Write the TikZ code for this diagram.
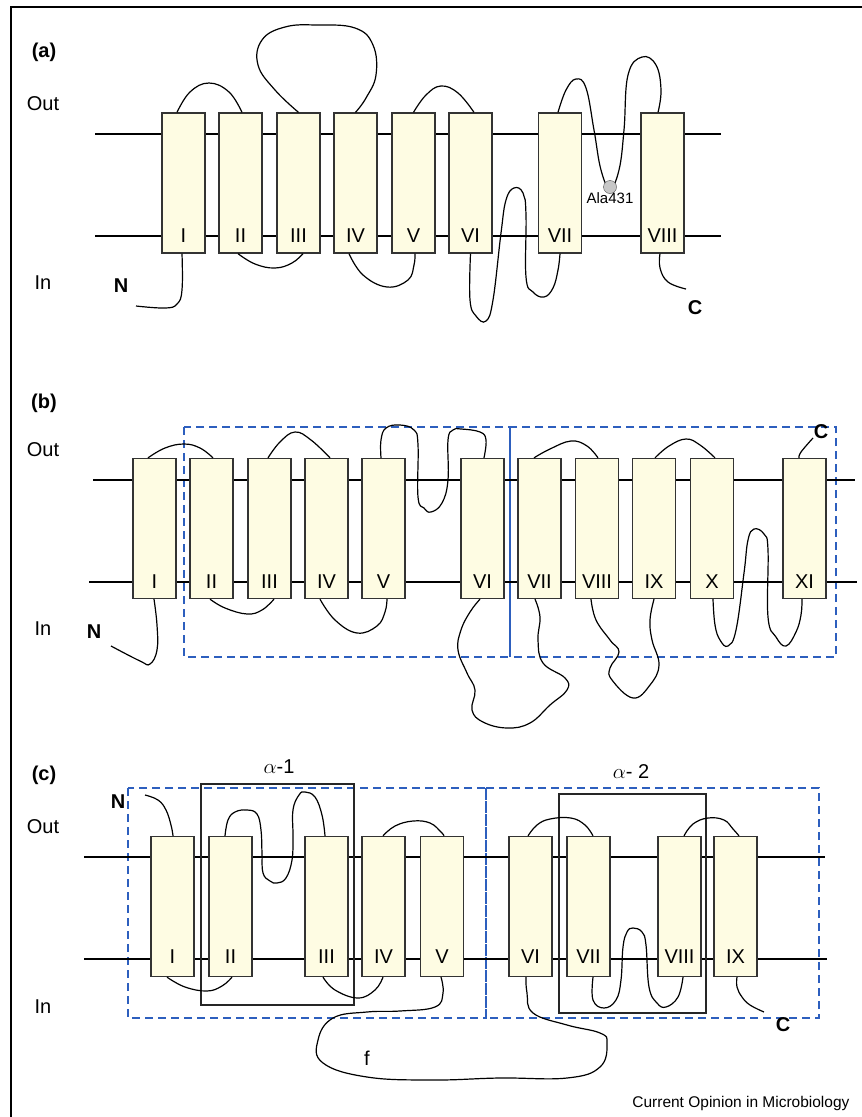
\documentclass[tikz,border=0pt]{standalone}
\usepackage{fontspec}
\setmainfont{Liberation Sans}
\usetikzlibrary{positioning}
\definecolor{tmfill}{RGB}{254,252,227}
\definecolor{domblue}{RGB}{45,95,190}
\tikzset{
  tmbox/.style={
    draw=black!80,
    fill=tmfill,
    line width=1.3pt,
    minimum width=43pt,
    minimum height=140pt,
    inner sep=0pt
  },
  tmnum/.style={
    inner sep=0pt,
    font=\fontsize{20}{20}\selectfont
  },
  sidelabel/.style={font=\fontsize{20}{20}\selectfont},
  panellabel/.style={font=\fontsize{20}{20}\selectfont\bfseries},
  termlabel/.style={font=\fontsize{20}{20}\selectfont\bfseries},
  membrane/.style={line width=1.2pt},
  loopline/.style={
    line width=1.2pt,
    smooth,
    tension=0.7
  },
  domainbox/.style={
    draw=domblue,
    line width=1.2pt,
    dash pattern=on 8pt off 5pt
  },
  alphabox/.style={
    draw=black!85,
    line width=1.3pt
  }
}

\begin{document}
\begin{tikzpicture}[x=1pt,y=1pt]
\useasboundingbox (0,0) rectangle (862,-1117);

% --- cadre ---
\draw[line width=1.2pt] (11,-1117) -- (11,-7) -- (862,-7);

% ======================= (a) =======================
\node[panellabel] (pa) at (44,-52) {(a)};
\node[sidelabel] (aout) at (43,-104) {Out};
\node[sidelabel] (ain) at (43,-283) {In};

% --- membrane ---
\draw[membrane] (95,-134) -- (721,-134);
\draw[membrane] (95,-236) -- (721,-236);

% --- helices ---
\foreach \x/\n [count=\i] in {183.5/I,240.5/II,298.5/III,355.5/IV,413.5/V,470.5/VI,560/VII,662.5/VIII}{
  \node[tmbox] (a\i) at (\x,-183) {};
  \node[tmnum] (a\i n) at (\x,-236) {\n};
}

% --- boucles ---
\draw[loopline] plot coordinates {([xshift=-6.5pt]a1.north) (190,-92) (209,-83) (229,-92) ([xshift=1.5pt]a2.north)};
\draw[loopline] plot coordinates {(a3.north) (275,-90) (258,-65) (262,-40) (285,-27) (317,-25) (355,-28) (373,-45) (376,-75) (366,-98) (a4.north)};
\draw[loopline] plot coordinates {(a5.north) (426,-95) (441,-86) (458,-93) ([xshift=3.5pt]a6.north)};
\draw[loopline] plot coordinates {([xshift=-2pt]a7.north) (566,-90) (576,-79) (586,-88) (594,-130) (601,-170) (610,-188) (619,-170) (624,-130) (628,-75) (642,-57) (656,-65) (661,-90) ([xshift=-4.5pt]a8.north)};
\draw[loopline] plot coordinates {([xshift=-2.5pt]a2.south) (255,-264) (275,-268) (292,-263) ([xshift=4.5pt]a3.south)};
\draw[loopline] plot coordinates {([xshift=-6.5pt]a4.south) (363,-275) (387,-287) (408,-280) (414,-265) ([xshift=1.5pt]a5.south)};
\draw[loopline] plot coordinates {(a6.south) (470,-300) (476,-316) (486,-321) (493,-300) (501,-233) (506,-200) (514,-188) (523,-193) (526,-215) (526,-277) (533,-292) (544,-297) (553,-288) (558,-270) (a7.south)};

% --- extremites ---
\coordinate (aN) at (136,-306);
\coordinate (aC) at (686,-289);
\draw[loopline] plot coordinates {([xshift=-1.5pt]a1.south) (182,-290) (177,-304) (165,-308) (aN)};
\draw[loopline] plot coordinates {([xshift=-2.5pt]a8.south) (660,-268) (668,-282) (aC)};
\node[termlabel] (aNl) at (121,-286) {N};
\node[termlabel] (aCl) at (695,-308) {C};

% --- Ala431 ---
\node[circle, draw=black!70, fill=black!22, minimum size=13pt, inner sep=0pt] (ala) at (610,-187) {};
\node[below=-1pt of ala, inner sep=0pt, font=\fontsize{15}{15}\selectfont] (alal) {Ala431};

% ======================= (b) =======================
\node[panellabel] (pb) at (44,-403) {(b)};
\node[sidelabel] (bout) at (43,-450) {Out};
\node[sidelabel] (bin) at (43,-629) {In};

% --- domaines ---
\draw[domainbox] (184,-427) rectangle (510,-657);
\draw[domainbox] (510,-427) rectangle (836,-657);
\draw[draw=domblue, line width=1.2pt] (510,-427) -- (510,-657);

% --- membrane ---
\draw[membrane] (93,-480) -- (855,-480);
\draw[membrane] (89,-582) -- (857,-582);

% --- helices ---
\foreach \x/\n [count=\i] in {154.5/I,211.5/II,269.5/III,326.5/IV,383.5/V,482.5/VI,539.5/VII,597/VIII,654/IX,712/X,804.5/XI}{
  \node[tmbox] (b\i) at (\x,-528.5) {};
  \node[tmnum] (b\i n) at (\x,-582) {\n};
}

% --- boucles ---
\draw[loopline] plot coordinates {([xshift=-6.5pt]b1.north) (165,-448) (184,-444) (200,-448) ([xshift=1.5pt]b2.north)};
\draw[loopline] plot coordinates {([xshift=-1.5pt]b3.north) (280,-442) (295,-432) (311,-440) ([xshift=3.5pt]b4.north)};
\draw[loopline] plot coordinates {([xshift=-2.5pt]b5.north) (381,-440) (386,-428) (400,-425) (414,-430) (418,-445) (418,-497) (424,-508) (431,-512) (442,-503) (448,-480) (448,-440) (453,-430) (461,-429) (480,-432) (486,-440) ([xshift=1.5pt]b6.north)};
\draw[loopline] plot coordinates {([xshift=-5.5pt]b7.north) (550,-449) (571,-441) (587,-446) ([xshift=1pt]b8.north)};
\draw[loopline] plot coordinates {([xshift=1pt]b9.north) (669,-446) (686,-439) (700,-445) ([xshift=3pt]b10.north)};
\draw[loopline] plot coordinates {([xshift=-1.5pt]b2.south) (225,-608) (247,-614) (262,-610) ([xshift=4.5pt]b3.south)};
\draw[loopline] plot coordinates {([xshift=-6.5pt]b4.south) (335,-620) (357,-633) (377,-626) (385,-612) ([xshift=3.5pt]b5.south)};
\draw[loopline] plot coordinates {([xshift=-2.5pt]b6.south) (470,-612) (461,-630) (458,-650) (467,-673) (475,-690) (472,-710) (483,-722) (507,-728) (530,-723) (550,-705) (567,-690) (565,-678) (543,-663) (538,-640) (540,-617) ([xshift=-4.5pt]b7.south)};
\draw[loopline] plot coordinates {([xshift=-6pt]b8.south) (596,-620) (610,-640) (619,-652) (610,-668) (612,-680) (633,-698) (650,-685) (659,-665) (652,-640) (650,-620) (b9.south)};
\draw[loopline] plot coordinates {([xshift=1pt]b10.south) (715,-625) (720,-640) (728,-646) (736,-630) (744,-573) (748,-540) (754,-529) (764,-534) (768,-550) (768,-617) (776,-637) (786,-646) (796,-632) (801,-615) ([xshift=-2.5pt]b11.south)};

% --- extremites ---
\coordinate (bN) at (111,-646);
\coordinate (bC) at (813,-438);
\draw[loopline] plot coordinates {([xshift=-0.5pt]b1.south) (157,-625) (157,-650) (150,-664) (140,-661) (bN)};
\draw[loopline] plot coordinates {([xshift=-5.5pt]b11.north) (801,-452) (bC)};
\node[termlabel] (bNl) at (94,-632) {N};
\node[termlabel] (bCl) at (821,-432) {C};

% ======================= (c) =======================
\node[panellabel] (pc) at (44,-775) {(c)};
\node[sidelabel] (cout) at (43,-827) {Out};
\node[sidelabel] (cin) at (43,-1007) {In};

% --- domaines ---
\draw[domainbox] (128,-788) rectangle (486,-1018);
\draw[domainbox] (486,-788) rectangle (819,-1018);

% --- membrane ---
\draw[membrane] (84,-857) -- (825,-857);
\draw[membrane] (84,-959) -- (827,-959);

% --- alpha ---
\draw[alphabox] (201,-784) rectangle (354,-1005);
\draw[alphabox] (559,-794) rectangle (706,-1013);
\node[sidelabel] (al1) at (279,-767) {$\alpha$-1};
\node[sidelabel] (al2) at (631,-772) {$\alpha$- 2};

% --- helices ---
\foreach \x/\n [count=\i] in {172.5/I,230.5/II,326.5/III,383.5/IV,442/V,530.5/VI,588.5/VII,679.5/VIII,735.5/IX}{
  \node[tmbox] (c\i) at (\x,-906.5) {};
  \node[tmnum] (c\i n) at (\x,-957) {\n};
}

% --- boucles ---
\draw[loopline] plot coordinates {([xshift=-5.5pt]c2.north) (228,-820) (235,-812) (247,-810) (257,-814) (261,-830) (262,-853) (263,-873) (270,-881) (277,-883) (286,-878) (292,-860) (293,-837) (293,-810) (299,-795) (305,-792) (315,-797) (322,-815) ([xshift=-1.5pt]c3.north)};
\draw[loopline] plot coordinates {([xshift=-0.5pt]c4.north) (395,-826) (413,-821) (430,-823) (441,-832) ([xshift=2pt]c5.north)};
\draw[loopline] plot coordinates {([xshift=-5.5pt]c1.south) (185,-987) (207,-991) (222,-986) ([xshift=1.5pt]c2.south)};
\draw[loopline] plot coordinates {([xshift=-3.5pt]c3.south) (335,-990) (358,-998) (375,-990) ([xshift=-0.5pt]c4.south)};
\draw[loopline] plot coordinates {([xshift=-1pt]c5.south) (443,-993) (435,-1007) (400,-1011) (367,-1012) (333,-1018) (318,-1040) (323,-1063) (367,-1077) (433,-1080) (500,-1078) (567,-1078) (600,-1067) (607,-1043) (600,-1033) (567,-1025) (533,-1013) (527,-993) ([xshift=-4.5pt]c6.south)};
\draw[loopline] plot coordinates {([xshift=-2.5pt]c6.north) (537,-825) (550,-819) (571,-818) (585,-825) ([xshift=4.5pt]c7.north)};
\draw[loopline] plot coordinates {([xshift=4.5pt]c7.south) (593,-1000) (604,-1008) (616,-1000) (621,-980) (623,-947) (627,-932) (633,-928) (642,-932) (646,-945) (649,-987) (657,-1003) (666,-1007) (678,-997) ([xshift=3.5pt]c8.south)};
\draw[loopline] plot coordinates {([xshift=4.5pt]c8.north) (693,-824) (708,-818) (724,-820) (733,-829) ([xshift=3.5pt]c9.north)};
\node[sidelabel] (fl) at (367,-1058) {f};

% --- extremites ---
\coordinate (cN) at (145,-795);
\coordinate (cC) at (764,-1012);
\draw[loopline] plot coordinates {(cN) (158,-800) (166,-810) (171,-825) ([xshift=0.5pt]c1.north)};
\draw[loopline] plot coordinates {([xshift=1.5pt]c9.south) (737,-987) (742,-997) (750,-1005) (cC)};
\node[termlabel] (cNl) at (118,-802) {N};
\node[termlabel] (cCl) at (783,-1025) {C};

% --- source ---
\node[anchor=east, font=\fontsize{15.5}{16}\selectfont] (src) at (853,-1103) {Current Opinion in Microbiology};

\end{tikzpicture}
\end{document}
